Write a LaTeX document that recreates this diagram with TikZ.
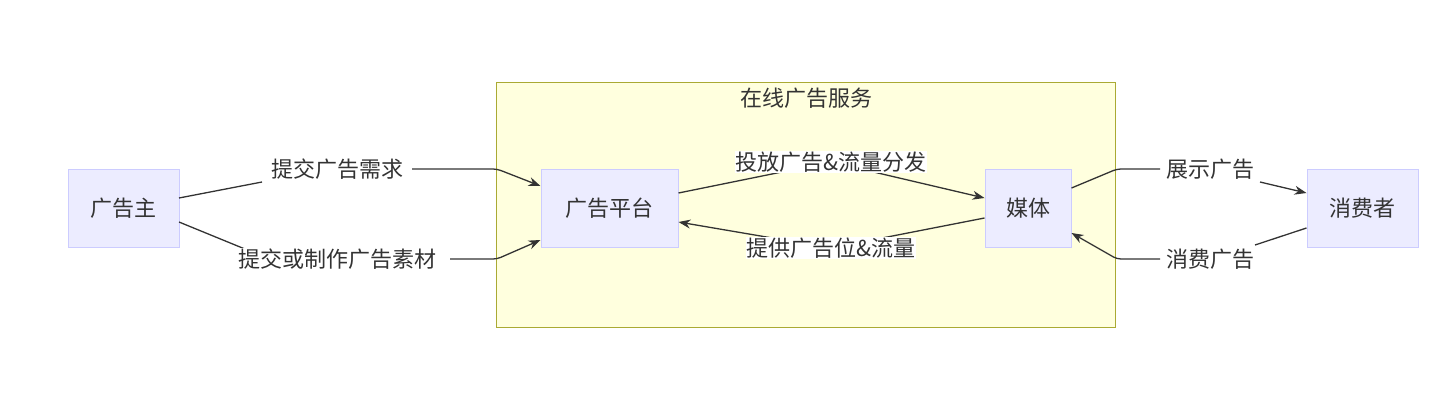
\documentclass[tikz,border=0pt]{standalone}
\usepackage{fontspec}
\setmainfont{Noto Sans CJK SC}
\usetikzlibrary{arrows.meta}
\definecolor{nfill}{HTML}{ECECFF}
\definecolor{ndraw}{HTML}{CCCCFF}
\definecolor{cfill}{HTML}{FFFFDE}
\definecolor{cdraw}{HTML}{AAAA33}
\definecolor{txt}{HTML}{333333}
\tikzset{
  box/.style={draw=ndraw,fill=nfill,line width=1pt,minimum height=78pt,text=txt,font=\fontsize{22}{24}\selectfont,inner sep=0pt},
  lbl/.style={fill=white,text=txt,font=\fontsize{22}{24}\selectfont,inner sep=1pt},
  edge/.style={draw=txt,line width=1.3pt,rounded corners=4pt,-{Stealth[length=12pt,width=9pt]}},
  plain/.style={draw=txt,line width=1.3pt,rounded corners=4pt}
}
\begin{document}
\begin{tikzpicture}[x=1pt,y=-1pt]
\useasboundingbox (0,0) rectangle (1446,400);
\node[draw=cdraw,fill=cfill,line width=1pt,minimum width=619pt,minimum height=245pt,inner sep=0pt] (svc) at (805.5,204.5) {};
\node[text=txt,font=\fontsize{22}{24}\selectfont] (svct) at (806,98) {在线广告服务};
\node[box,minimum width=111pt] (gz) at (123.5,208) {广告主};
\node[box,minimum width=137pt] (pt) at (609.5,208) {广告平台};
\node[box,minimum width=86pt] (mt) at (1028,208) {媒体};
\node[box,minimum width=111pt] (xf) at (1362.5,208) {消费者};
\coordinate (a1) at (497,169); \coordinate (a2) at (497,259);
\coordinate (b1) at (1117,169); \coordinate (b2) at (1117,259);
\draw[plain] (179,198) -- (262,182);
\draw[edge] (412,169) -- (a1) -- (pt.west |- 0,186);
\draw[plain] (179,222) -- (262,256);
\draw[edge] (450,259) -- (a2) -- (pt.west |- 0,240);
\draw[edge] (pt.east |- 0,193) -- (831,162) -- (mt.west |- 0,198);
\draw[edge] (mt.west |- 0,218) -- (831,248) -- (pt.east |- 0,222);
\draw[plain] (mt.east |- 0,188) -- (b1) -- (1160,169);
\draw[edge] (1260,182) -- (xf.west |- 0,193);
\draw[plain] (xf.west |- 0,228) -- (1255,245);
\draw[edge] (1160,259) -- (b2) -- (mt.east |- 0,233);
\node[lbl] (l1) at (337,169) {提交广告需求};
\node[lbl] (l2) at (337,259) {提交或制作广告素材};
\node[lbl] (l3) at (831,162) {投放广告\&流量分发};
\node[lbl] (l4) at (831,248) {提供广告位\&流量};
\node[lbl] (l5) at (1210,169) {展示广告};
\node[lbl] (l6) at (1210,259) {消费广告};
\end{tikzpicture}
\end{document}
